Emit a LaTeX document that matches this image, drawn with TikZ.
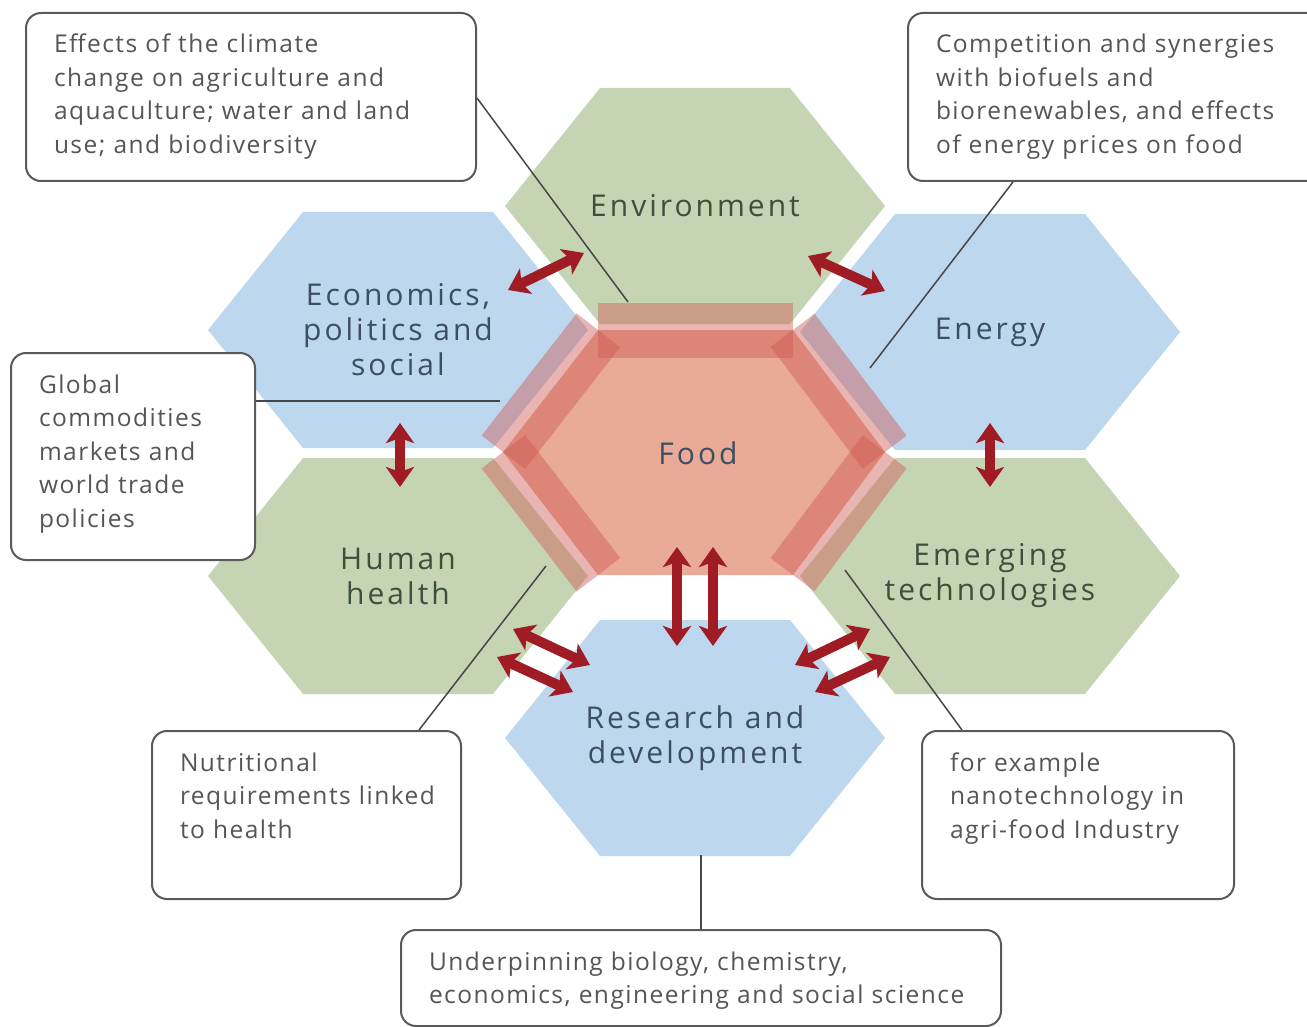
\documentclass[tikz,border=0pt]{standalone}
\usepackage{fontspec}
\setmainfont{Open Sans}
\newfontfamily\hexfont[LetterSpace=10]{Open Sans}
\newfontfamily\notefont[LetterSpace=6]{Open Sans}
\usetikzlibrary{arrows.meta,calc}
\definecolor{hexgreen}{RGB}{197,213,180}
\definecolor{hexblue}{RGB}{189,215,238}
\definecolor{foodfill}{RGB}{234,170,152}
\definecolor{bandred}{RGB}{206,90,84}
\definecolor{arrowred}{RGB}{160,28,36}
\definecolor{boxgray}{RGB}{90,90,90}
\definecolor{textgray}{RGB}{85,85,85}
\definecolor{leadgray}{RGB}{70,70,70}
\definecolor{bluetext}{RGB}{62,78,98}
\definecolor{greentext}{RGB}{60,80,62}
\tikzset{
  hexlabel/.style={align=center, inner sep=0pt, font=\hexfont\fontsize{30pt}{35pt}\selectfont},
  callout/.style={draw=boxgray, line width=2pt, rounded corners=15pt, fill=white,
    align=left, anchor=north west, inner xsep=28pt, inner ysep=0pt, text height=40pt,
    text=textgray, font=\notefont\fontsize{24.5pt}{33.5pt}\selectfont},
  leader/.style={draw=leadgray, line width=1.5pt},
  band/.style={fill=bandred, fill opacity=.45},
  biarrow/.style={{Stealth[length=20pt,width=28pt,inset=5pt]}-{Stealth[length=20pt,width=28pt,inset=5pt]},
    line width=10pt, draw=arrowred},
}
% one cell of the honeycomb: centre, fill, text colour, name, label
\newcommand{\hexcell}[5]{%
  \fill[#2] (#1) ++(-190,0) -- ++(95,-118) -- ++(190,0) -- ++(95,118) -- ++(-95,118) -- ++(-190,0) -- cycle;
  \node[hexlabel, text=#3] (#4) at (#1) {#5};
}

\begin{document}
\begin{tikzpicture}[x=1pt, y=-1pt]
  \useasboundingbox (0,0) rectangle (1307,1027);

  % outer cells
  \hexcell{695,206}{hexgreen}{greentext}{env}{Environment}
  \hexcell{398,330}{hexblue}{bluetext}{econ}{Economics,\\politics and\\social}
  \hexcell{990,332}{hexblue}{bluetext}{energy}{Energy}
  \hexcell{398,576}{hexgreen}{greentext}{health}{Human\\health}
  \hexcell{990,576}{hexgreen}{greentext}{emerg}{Emerging\\technologies}
  \hexcell{695,738}{hexblue}{bluetext}{rd}{Research and\\development}

  % food cell with its bands
  \coordinate (ftr) at (793,330);
  \coordinate (ftl) at (598,330);
  \coordinate (fl)  at (503,452);
  \coordinate (fbl) at (598,575);
  \coordinate (fbr) at (793,575);
  \coordinate (fr)  at (885,452);
  \fill[foodfill] (ftr) -- (ftl) -- (fl) -- (fbl) -- (fbr) -- (fr) -- cycle;
  \foreach \p/\q in {ftr/ftl, ftl/fl, fl/fbl, fbr/fr, fr/ftr}
    \fill[band] ($(\p)!27pt!-90:(\q)$) -- ($(\q)!27pt!90:(\p)$)
      -- ($(\q)!28pt!-90:(\p)$) -- ($(\p)!28pt!90:(\q)$) -- cycle;
  \node[hexlabel, text=bluetext] (food) at (698,453) {Food};

  % callouts
  \node[callout, text width=394pt, text depth=128pt] (clim) at (25,12)
    {Effects of the climate\\change on agriculture and\\aquaculture; water and land\\use; and biodiversity};
  \node[callout, text width=384pt, text depth=128pt] (bio) at (907,12)
    {Competition and synergies\\with biofuels and\\biorenewables, and effects\\of energy prices on food};
  \node[callout, text width=188pt, text depth=167pt] (trade) at (10,352)
    {Global\\commodities\\markets and\\world trade\\policies};
  \node[callout, text width=253pt, text depth=128pt] (nutri) at (151,730)
    {Nutritional\\requirements~linked\\to health};
  \node[callout, text width=256pt, text depth=128pt] (nano) at (921,730)
    {for example\\nanotechnology~in\\agri-food~Industry};
  \node[callout, text width=544pt, text depth=56pt] (basis) at (400,929)
    {Underpinning biology, chemistry,\\economics, engineering and social science};

  % leader lines
  \coordinate (climend) at (628,302);
  \coordinate (bioend) at (870,368);
  \coordinate (tradeend) at (500,401);
  \coordinate (nutriend) at (546,566);
  \coordinate (nanoend) at (845,570);
  \coordinate (basisend) at (701,855);
  \draw[leader] (clim.east |- 0,98) -- (climend);
  \draw[leader] (bio.south -| 1013,0) -- (bioend);
  \draw[leader] (trade.east |- tradeend) -- (tradeend);
  \draw[leader] (nutri.north -| 419,0) -- (nutriend);
  \draw[leader] (nano.north -| 962,0) -- (nanoend);
  \draw[leader] (basis.north -| basisend) -- (basisend);

  % two-way links
  \coordinate (ee1) at (508,290); \coordinate (ee2) at (584,253);
  \coordinate (en1) at (808,256); \coordinate (en2) at (885,291);
  \coordinate (eh1) at (400,423); \coordinate (eh2) at (400,487);
  \coordinate (ey1) at (990,423); \coordinate (ey2) at (990,487);
  \coordinate (fr1) at (677,547); \coordinate (fr2) at (677,646);
  \coordinate (fr3) at (713,547); \coordinate (fr4) at (713,646);
  \coordinate (hr1) at (513,629); \coordinate (hr2) at (590,665);
  \coordinate (hr3) at (497,657); \coordinate (hr4) at (573,692);
  \coordinate (tr1) at (795,665); \coordinate (tr2) at (870,629);
  \coordinate (tr3) at (815,692); \coordinate (tr4) at (890,657);
  \foreach \s/\t in {ee1/ee2, en1/en2, eh1/eh2, ey1/ey2, fr1/fr2, fr3/fr4, hr1/hr2, hr3/hr4, tr1/tr2, tr3/tr4}
    \draw[biarrow] (\s) -- (\t);
\end{tikzpicture}
\end{document}
